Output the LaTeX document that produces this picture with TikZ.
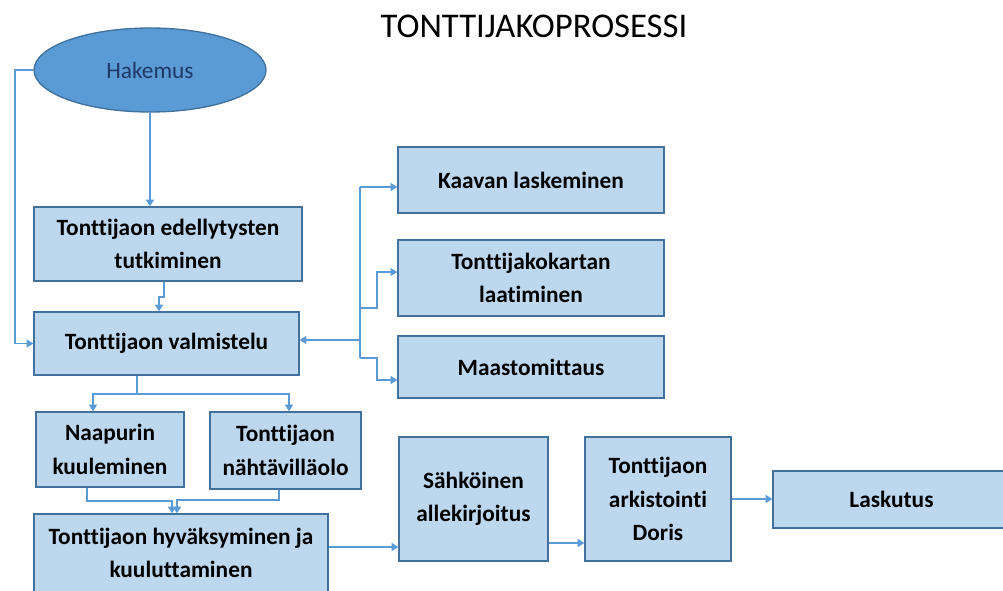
\documentclass[tikz,border=0pt]{standalone}
\usepackage{fontspec}
\setmainfont{Carlito}[Ligatures={NoCommon}]
\usetikzlibrary{arrows.meta,calc,shapes.geometric}
\definecolor{boxfill}{HTML}{BDD7EE}
\definecolor{boxline}{HTML}{41719C}
\definecolor{conncol}{HTML}{5B9BD5}
\definecolor{hakcol}{HTML}{1F3864}
\begin{document}
\begin{tikzpicture}[x=0.75pt,y=-0.75pt,
  box/.style={draw=boxline, fill=boxfill, line width=1pt, align=center,
    font=\fontsize{17.5}{25}\selectfont\bfseries, inner sep=0pt},
  conn/.style={draw=conncol, line width=1.3pt, -{Triangle[width=6pt,length=5pt]}},
  thinconn/.style={draw=conncol, line width=0.8pt, -{Triangle[width=6pt,length=5pt]}},
  wire/.style={draw=conncol, line width=1.3pt},
  thinwire/.style={draw=conncol, line width=0.8pt}]
\useasboundingbox (0,0) rectangle (1003,590);
\clip (0,0) rectangle (1003,590);

\node[font=\fontsize{26}{30}\selectfont] (title) at (534,26) {TONTTIJAKOPROSESSI};

\node[ellipse, draw=boxline, fill=conncol, line width=1pt, minimum width=174pt, minimum height=63pt,
  inner sep=0pt, text=hakcol, font=\fontsize{17.5}{20}\selectfont] (hak) at (150,70) {Hakemus};

\node[box, minimum width=201pt, minimum height=55.5pt] (b1) at (168,244) {Tonttijaon edellytysten\\tutkiminen};
\node[box, minimum width=198.75pt, minimum height=47.25pt] (b2) at (166.5,343.5) {Tonttijaon valmistelu};
\node[box, minimum width=199.5pt, minimum height=49.5pt] (kaava) at (531,180) {Kaavan laskeminen};
\node[box, minimum width=199.5pt, minimum height=57pt] (kartta) at (531,278) {Tonttijakokartan\\laatiminen};
\node[box, minimum width=199.5pt, minimum height=46.5pt] (maasto) at (531,367) {Maastomittaus};
\node[box, minimum width=111pt, minimum height=56.25pt] (naapuri) at (110,449.5) {Naapurin\\kuuleminen};
\node[box, minimum width=113.25pt, minimum height=57.75pt] (nahta) at (285.5,450.5) {Tonttijaon\\nähtävilläolo};
\node[box, minimum width=220.5pt, minimum height=58.5pt] (b3) at (181,553) {Tonttijaon hyväksyminen ja\\kuuluttaminen};
\node[box, minimum width=111.75pt, minimum height=93pt] (sahko) at (473.5,499) {Sähköinen\\allekirjoitus};
\node[box, minimum width=109.5pt, minimum height=93pt] (arkisto) at (658,499) {Tonttijaon\\arkistointi\\Doris};
\node[box, minimum width=177.75pt, minimum height=42.75pt] (lask) at (891.5,499.5) {Laskutus};

% Hakemus -> edellytysten
\draw[conn] (hak.south) -- (hak.south |- b1.north);
% edellytysten -> valmistelu
\coordinate (j1) at ($(b1.south)+(-4,15)$);
\draw[conn] ($(b1.south)+(-4,0)$) -- (j1) -- ++(-5,0) -- ($(b2.north)+(-7.5,0)$);
% feedback
\coordinate (fb) at (15,70);
\draw[thinconn] (hak.west) -- (fb) |- (b2.west);

% right bus
\coordinate (busTop) at (360,187);
\coordinate (busBot) at (360,358);
\coordinate (busK) at (360,308);
\coordinate (busB) at (360,340);
\draw[thinwire] (busTop) -- (busBot);
\draw[thinconn] (busTop) -- (busTop -| kaava.west);
\draw[thinconn] (busK) -- ++(17,0) -- ++(0,-36) -- ($(kartta.west)+(0,-6)$);
\draw[thinconn] (busBot) -- ++(17,0) -- ++(0,22) -- ($(maasto.west)+(0,13)$);
\draw[conn] (busB) -- (busB -| b2.east);

% valmistelu -> split
\coordinate (sp) at (137,394);
\draw[wire] (sp |- b2.south) -- (sp);
\draw[conn] (sp) -- (93,394) -- (93,394 |- naapuri.north);
\draw[conn] (sp) -- (289,394) -- (289,394 |- nahta.north);

% merge to hyvaksyminen
\coordinate (m1) at (87,501);
\coordinate (m2) at (279,500);
\draw[conn] (m1 |- naapuri.south) -- (m1) -- (172,501) -- (172,501 |- b3.north);
\draw[conn] (m2 |- nahta.south) -- (m2) -- (177,500) -- (177,500 |- b3.north);

% bottom chain
\coordinate (c1) at (0,547);
\coordinate (c2) at (0,543);
\draw[conn] (c1 -| b3.east) -- (c1 -| sahko.west);
\draw[conn] (c2 -| sahko.east) -- (c2 -| arkisto.west);
\draw[conn] (arkisto.east) -- (arkisto.east -| lask.west);
\end{tikzpicture}
\end{document}
